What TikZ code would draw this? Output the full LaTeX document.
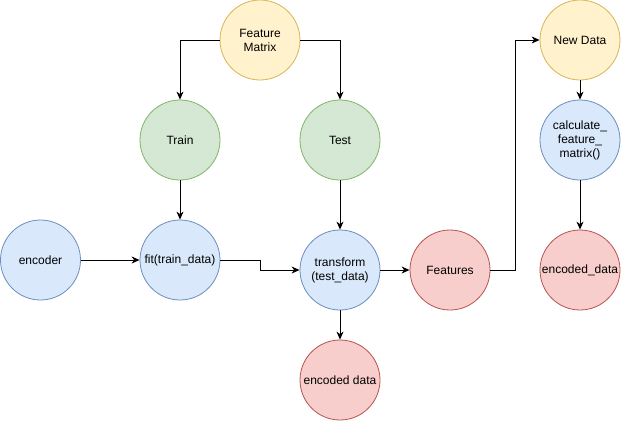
\documentclass[tikz,border=0pt]{standalone}
\usepackage{fontspec}
\setmainfont{Liberation Sans}
\usetikzlibrary{arrows.meta}
\definecolor{yfill}{HTML}{FFF2CC}\definecolor{ydraw}{HTML}{D6B656}
\definecolor{gfill}{HTML}{D5E8D4}\definecolor{gdraw}{HTML}{82B366}
\definecolor{bfill}{HTML}{DAE8FC}\definecolor{bdraw}{HTML}{6C8EBF}
\definecolor{rfill}{HTML}{F8CECC}\definecolor{rdraw}{HTML}{B85450}
\begin{document}
\begin{tikzpicture}[x=1pt,y=-1pt,
  bubble/.style={circle,minimum size=80pt,inner sep=0pt,line width=0.8pt,align=center,font=\fontsize{12}{14}\selectfont},
  yel/.style={bubble,fill=yfill,draw=ydraw},
  grn/.style={bubble,fill=gfill,draw=gdraw},
  blu/.style={bubble,fill=bfill,draw=bdraw},
  red/.style={bubble,fill=rfill,draw=rdraw},
  conn/.style={line width=0.9pt,-{Stealth[length=8pt,width=7pt,inset=2.5pt]}}]
\useasboundingbox (0,0) rectangle (621,421);
\node[yel] (fm) at (260,40) {Feature\\Matrix};
\node[grn] (train) at (180,140) {Train};
\node[grn] (test) at (340,140) {Test};
\node[blu] (enc) at (40.5,260) {encoder};
\node[blu] (fit) at (180,260) {fit(train\_data)};
\node[blu] (tr) at (340,270) {transform\\(test\_data)};
\node[red] (ed) at (340,380) {encoded data};
\node[red] (feat) at (450,270) {Features};
\node[yel] (nd) at (580,40) {New Data};
\node[blu] (calc) at (580,140) {calculate\_\\feature\_\\matrix()};
\node[red] (ed2) at (580,270) {encoded\_data};
\draw[conn] (fm.west) -| (train.north);
\draw[conn] (fm.east) -| (test.north);
\draw[conn] (train) -- (fit);
\draw[conn] (test) -- (tr);
\draw[conn] (enc) -- (fit);
\draw[conn] (fit.east) -- (260,260) |- (tr.west);
\draw[conn] (tr) -- (ed);
\draw[conn] (tr) -- (feat);
\draw[conn] (feat.east) -- (515,270) |- (nd.west);
\draw[conn] (nd) -- (calc);
\draw[conn] (calc) -- (ed2);
\end{tikzpicture}
\end{document}
